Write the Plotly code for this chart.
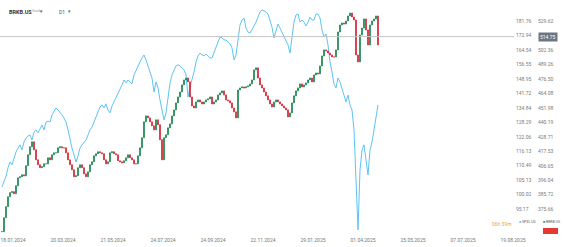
import math
import plotly.graph_objects as go

# ---------------- data ----------------
date_labels = ["18.01.2024", "20.03.2024", "21.05.2024", "24.07.2024", "24.09.2024",
               "22.11.2024", "29.01.2025", "01.04.2025", "25.05.2025", "07.07.2025",
               "19.08.2025"]

spxl_close = [
    102.7, 104.5, 106.6, 109.7, 111.9, 110.8, 113.5, 115.8, 117.4, 118.7,
    116.6, 119.9, 121.5, 122.4, 122.8, 120.7, 124.1, 125.0, 123.7, 125.8,
    127.1, 125.0, 128.4, 128.8, 128.4, 131.6, 132.9, 134.8, 133.8, 132.9,
    131.6, 130.2, 128.4, 125.0, 120.7, 117.4, 114.7, 111.9, 114.3, 117.4,
    118.7, 119.9, 120.7, 122.8, 125.0, 126.2, 128.4, 130.2, 132.9, 135.2,
    136.2, 134.8, 136.7, 133.8, 132.5, 135.7, 137.6, 139.5, 141.4, 143.4,
    145.9, 148.4, 146.9, 148.4, 147.4, 146.4, 151.0, 153.6, 155.8, 157.9,
    160.1, 161.7, 159.0, 155.2, 152.5, 149.4, 142.4, 147.4, 144.4, 138.5,
    133.8, 129.3, 132.5, 140.9, 146.9, 151.0, 153.6, 155.8, 156.3, 155.8,
    154.7, 153.6, 151.0, 139.9, 144.9, 148.4, 152.5, 157.9, 161.2, 162.8,
    161.7, 161.2, 162.3, 161.2, 160.1, 160.1, 163.4, 166.2, 169.1, 172.0,
    171.5, 170.3, 170.3, 169.1, 168.0, 165.7, 159.0, 161.7, 170.3, 179.3,
    182.4, 183.7, 177.4, 175.0, 174.4, 176.2, 178.7, 181.1, 185.0, 187.5,
    188.8, 188.2, 187.5, 186.2, 182.4, 178.0, 171.5, 176.2, 179.9, 177.4,
    175.0, 172.6, 170.3, 167.4, 162.8, 172.0, 181.1, 185.6, 186.2, 181.1,
    182.4, 181.1, 178.7, 181.1, 184.3, 182.4, 182.4, 186.2, 186.2, 183.7,
    176.2, 172.0, 173.8, 167.4, 157.9, 152.5, 146.4, 144.4, 149.4, 147.4,
    144.4, 140.9, 137.6, 140.9, 136.2, 133.8, 125.0, 105.2, 88.6, 108.9,
    116.6, 118.7, 111.9, 107.0, 116.6, 119.9, 125.0, 130.2, 136.2,
]

brkb_close = [
    360.6, 369.9, 377.4, 384.3, 387.2, 387.9, 386.4, 392.1, 397.8, 398.6,
    400.0, 399.3, 406.7, 414.9, 421.0, 424.8, 418.7, 411.1, 407.4, 405.2,
    405.9, 408.1, 408.1, 412.6, 411.1, 414.9, 416.4, 416.4, 420.2, 421.0,
    420.2, 420.2, 416.4, 411.1, 407.4, 403.7, 398.6, 399.3, 405.2, 407.4,
    405.2, 400.7, 398.6, 402.2, 407.4, 409.6, 414.1, 415.7, 417.2, 416.4,
    415.7, 411.1, 408.1, 409.6, 416.4, 417.2, 415.7, 414.9, 410.4, 409.6,
    408.9, 410.4, 412.6, 414.9, 412.6, 411.1, 408.1, 408.1, 414.1, 420.2,
    428.0, 440.6, 445.4, 443.8, 440.6, 437.4, 434.2, 442.2, 438.2, 426.4,
    411.1, 428.0, 430.3, 435.8, 439.0, 445.4, 450.3, 456.1, 461.1, 465.3,
    471.3, 475.6, 477.3, 473.9, 461.1, 453.6, 451.9, 456.9, 458.6, 456.9,
    455.2, 456.9, 458.6, 459.4, 461.1, 455.2, 456.9, 458.6, 462.8, 464.5,
    466.2, 462.8, 458.6, 457.8, 456.1, 451.9, 448.7, 443.8, 467.0, 468.7,
    469.6, 468.7, 469.6, 470.4, 472.2, 475.6, 484.4, 486.2, 477.3, 471.3,
    468.7, 465.3, 462.0, 458.6, 455.2, 452.7, 456.9, 458.6, 456.9, 455.2,
    453.6, 451.9, 450.3, 444.6, 447.8, 456.1, 462.0, 466.2, 468.7, 472.2,
    469.6, 471.3, 473.0, 475.6, 477.3, 473.9, 480.0, 481.7, 480.9, 487.9,
    496.9, 502.4, 501.5, 499.6, 497.8, 496.0, 496.0, 502.4, 519.1, 525.8,
    527.7, 526.8, 529.6, 534.5, 537.4, 533.5, 530.6, 497.8, 491.5, 516.3,
    522.9, 531.6, 521.0, 507.0, 525.8, 529.6, 531.6, 534.5, 507.0,
]

left_ticks = [95.17, 100.02, 105.13, 110.49, 116.13, 122.06, 128.29, 134.84,
              141.72, 148.95, 156.55, 164.54, 172.94, 181.76]
right_ticks = [375.66, 385.72, 396.04, 406.65, 417.53, 428.71, 440.19, 451.98,
               464.08, 476.50, 489.26, 502.36, 529.62]
last_price = 514.75

# ---------------- derived ----------------
bars = list(range(len(brkb_close)))
opens = [brkb_close[0]] + brkb_close[:-1]
highs = [max(o, c) for o, c in zip(opens, brkb_close)]
lows = [min(o, c) for o, c in zip(opens, brkb_close)]
tick_pos = [5.5 + 25 * k for k in range(len(date_labels))]

W, H = 564, 247
PLOT_H = 233
def px(x):
    return x / W
def py(y):
    return (PLOT_H - y) / PLOT_H

BLUE = "#5ec4f4"
GREEN = "#248a57"
RED = "#d3303e"
FONT = "Roboto"

fig = go.Figure()
fig.add_trace(go.Scatter(x=bars, y=spxl_close, mode="lines",
                         line=dict(color=BLUE, width=1), yaxis="y",
                         hoverinfo="skip"))
fig.add_trace(go.Candlestick(x=bars, open=opens, high=highs, low=lows,
                             close=brkb_close, yaxis="y2", whiskerwidth=0,
                             increasing=dict(line=dict(color=GREEN, width=0.8), fillcolor=GREEN),
                             decreasing=dict(line=dict(color=RED, width=0.8), fillcolor=RED)))

fig.update_layout(
    width=W, height=H,
    margin=dict(l=0, r=0, t=0, b=H - PLOT_H),
    paper_bgcolor="white", plot_bgcolor="white",
    showlegend=False,
    font=dict(family=FONT, size=5, color="#7a7a7a"),
    xaxis=dict(range=[-1, 281], tickmode="array", tickvals=tick_pos, ticktext=date_labels,
               showgrid=False, zeroline=False, showline=False, ticks="",
               ticklabelstandoff=3,
               rangeslider=dict(visible=False), tickfont=dict(size=5, color="#777777")),
    yaxis=dict(type="log", range=[math.log10(87.65), math.log10(195.4)],
               side="right", anchor="free", position=0.913,
               tickmode="array", tickvals=left_ticks, ticktext=[f"{v:.2f}" for v in left_ticks],
               showgrid=False, zeroline=False, showline=False, ticks="",
               tickfont=dict(size=5, color="#7a7a7a")),
    yaxis2=dict(type="log", range=[math.log10(359.7), math.log10(550.3)],
                side="right", anchor="free", position=0.952, overlaying="y",
                tickmode="array", tickvals=right_ticks, ticktext=[f"{v:.2f}" for v in right_ticks],
                showgrid=False, zeroline=False, showline=False, ticks="",
                tickfont=dict(size=5, color="#7a7a7a")),
)

# last price line and label
fig.add_shape(type="line", xref="paper", x0=0, x1=px(514), yref="y2", y0=last_price, y1=last_price,
              line=dict(color="#c4c4c4", width=1))
fig.add_annotation(xref="paper", x=px(538), xanchor="left", yref="y2", y=math.log10(last_price),
                   text=f"{last_price:.2f}", showarrow=False, bgcolor="#6b7682",
                   font=dict(size=5, color="white"), borderpad=1)

# header
fig.add_annotation(xref="paper", yref="paper", x=px(7), y=py(7), xanchor="left",
                   text="<b>BRKB.US</b>", showarrow=False, font=dict(size=5.5, color="#333333"))
fig.add_annotation(xref="paper", yref="paper", x=px(30), y=py(7), xanchor="left",
                   text="Stock", showarrow=False, font=dict(size=3.5, color="#999999"))
fig.add_annotation(xref="paper", yref="paper", x=px(41), y=py(6), xanchor="center",
                   text="▾", showarrow=False, font=dict(size=5, color="#666666"))
fig.add_annotation(xref="paper", yref="paper", x=px(57), y=py(7), xanchor="left",
                   text="D1", showarrow=False, font=dict(size=5, color="#555555"))
fig.add_annotation(xref="paper", yref="paper", x=px(69), y=py(6), xanchor="center",
                   text="▾", showarrow=False, font=dict(size=5, color="#666666"))

# bottom-right legend
fig.add_annotation(xref="paper", yref="paper", x=px(502), y=py(229), xanchor="center",
                   text="06h 39m", showarrow=False, font=dict(size=5, color="#f5a623"))
fig.add_annotation(xref="paper", yref="paper", x=px(517), y=py(226), xanchor="left",
                   text=f'<span style="color:{BLUE}">■</span> SPXL.US', showarrow=False,
                   font=dict(size=3.5, color="#555555"))
fig.add_annotation(xref="paper", yref="paper", x=px(541), y=py(226), xanchor="left",
                   text=f'<span style="color:{GREEN}">■</span> BRKB.US', showarrow=False,
                   font=dict(size=3.5, color="#555555"))
fig.add_shape(type="rect", xref="paper", yref="paper", x0=px(543), x1=px(558),
              y0=py(234), y1=py(228), fillcolor="#e53935", line=dict(width=0))

fig.write_html("out.html")
